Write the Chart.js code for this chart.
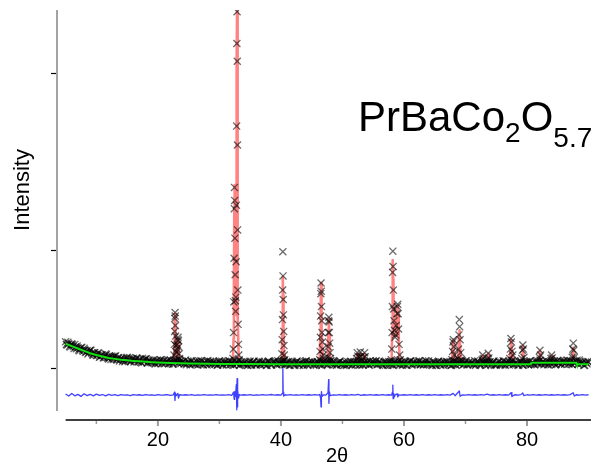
<!DOCTYPE html>
<html>
<head>
<meta charset="utf-8">
<script src="https://cdn.jsdelivr.net/npm/chart.js@4.4.0/dist/chart.umd.min.js"></script>
<style>
  body { margin: 0; background: #fff; }
  canvas { display: block; }
</style>
</head>
<body>
<canvas id="grafik" width="601" height="467"></canvas>
<script>
// Observed points on the flat part: start 5, step 0.25 (values in 10^3 counts)
const obsStart = 5;
const obsStep = 0.25;
const obsBaseY = [
  2.22, 1.95, 2.05, 1.77,  2.05, 1.81, 2.00, 1.63,  1.72, 1.45, 1.70, 1.49,  1.67, 1.31, 1.48, 1.28,
  1.51, 1.26, 1.08, 1.29,  1.05, 1.27, 0.91, 1.11,  1.11, 0.87, 1.19, 0.88,  0.75, 0.93, 1.01, 0.72,
  0.96, 0.72, 0.85, 0.60,  0.79, 0.55, 0.84, 0.66,  0.90, 0.68, 0.53, 0.77,  0.82, 0.62, 0.85, 0.52,
  0.71, 0.49, 0.82, 0.53,  0.76, 0.43, 0.65, 0.48,  0.45, 0.70, 0.36, 0.59,  0.37, 0.57, 0.67, 0.40,
  0.64, 0.42, 0.57, 0.34,  0.69, 0.48, 0.34, 0.59,  0.64, 0.45, 0.69, 0.37,  0.55, 0.34, 0.68, 0.40,
  0.48, 0.26, 0.56, 0.40,  0.33, 0.58, 0.25, 0.48,  0.61, 0.29, 0.51, 0.35,  0.26, 0.46, 0.56, 0.29,
  0.55, 0.33, 0.48, 0.25,  0.61, 0.40, 0.26, 0.51,  0.56, 0.37, 0.61, 0.29,  0.49, 0.28, 0.62, 0.34,
  0.43, 0.21, 0.51, 0.35,  0.30, 0.55, 0.22, 0.45,  0.58, 0.26, 0.48, 0.32,  0.24, 0.44, 0.54, 0.27,
  0.53, 0.31, 0.46, 0.23,  0.60, 0.39, 0.25, 0.50,  0.49, 0.28, 0.62, 0.34,  0.56, 0.37, 0.61, 0.29,
  0.30, 0.55, 0.22, 0.45,  0.43, 0.21, 0.51, 0.35,  0.24, 0.44, 0.54, 0.27,  0.58, 0.26, 0.48, 0.32,
  0.53, 0.31, 0.46, 0.23,  0.49, 0.28, 0.62, 0.34,  0.60, 0.39, 0.25, 0.50,  0.56, 0.37, 0.61, 0.29,
  0.24, 0.44, 0.54, 0.27,  0.43, 0.21, 0.51, 0.35,  0.30, 0.55, 0.22, 0.45,  0.53, 0.31, 0.46, 0.23,
  0.58, 0.26, 0.48, 0.32,  0.49, 0.28, 0.62, 0.34,  0.56, 0.37, 0.61, 0.29,  0.60, 0.39, 0.25, 0.50,
  0.24, 0.44, 0.54, 0.27,  0.43, 0.21, 0.51, 0.35,  0.53, 0.31, 0.46, 0.23,  0.30, 0.55, 0.22, 0.45,
  0.58, 0.26, 0.48, 0.32,  0.56, 0.37, 0.61, 0.29,  0.49, 0.28, 0.62, 0.34,  0.60, 0.39, 0.25, 0.50,
  0.43, 0.21, 0.51, 0.35,  0.24, 0.44, 0.54, 0.27,  0.53, 0.31, 0.46, 0.23,  0.30, 0.55, 0.22, 0.45,
  0.56, 0.37, 0.61, 0.29,  0.58, 0.26, 0.48, 0.32,  0.49, 0.28, 0.62, 0.34,  0.60, 0.39, 0.25, 0.50,
  0.43, 0.21, 0.51, 0.35,  0.53, 0.31, 0.46, 0.23,  0.24, 0.44, 0.54, 0.27,  0.30, 0.55, 0.22, 0.45,
  0.56, 0.37, 0.61, 0.29,  0.60, 0.39, 0.25, 0.50,  0.58, 0.26, 0.48, 0.32,  0.49, 0.28, 0.62, 0.34,
  0.48, 0.26, 0.56, 0.40,  0.58, 0.36, 0.51, 0.28,  0.35, 0.60, 0.27, 0.50,  0.29, 0.49, 0.59, 0.32,
  0.65, 0.44, 0.30, 0.55,  0.61, 0.42, 0.66, 0.34,  0.63, 0.31, 0.53, 0.37,  0.54, 0.33, 0.67, 0.39,
  0.43, 0.21, 0.51, 0.35,  0.50
];
// Second row of observed points, between the first ones (start 5.125)
const obsStart2 = 5.125;
const obsBaseY2 = [
  1.99, 2.18, 1.83, 1.98,  1.97, 1.64, 1.80, 1.86,  1.52, 1.67, 1.75, 1.41,  1.52, 1.36, 1.19, 1.46,
  1.50, 1.13, 1.31, 1.15,  1.06, 1.27, 0.94, 1.11,  0.86, 1.04, 1.14, 0.82,  1.01, 0.71, 0.90, 0.99,
  1.03, 0.68, 0.88, 0.74,  0.80, 0.68, 0.53, 0.84,  0.63, 0.86, 0.55, 0.74,  0.51, 0.70, 0.82, 0.52,
  0.72, 0.43, 0.63, 0.73,  0.79, 0.45, 0.66, 0.54,  0.60, 0.48, 0.35, 0.66,  0.45, 0.69, 0.39, 0.59,
  0.36, 0.56, 0.69, 0.40,  0.60, 0.32, 0.53, 0.64,  0.68, 0.35, 0.57, 0.45,  0.51, 0.40, 0.27, 0.59,
  0.37, 0.61, 0.31, 0.51,  0.29, 0.49, 0.62, 0.33,  0.54, 0.26, 0.47, 0.58,  0.63, 0.30, 0.52, 0.40,
  0.46, 0.35, 0.22, 0.54,
  0.33, 0.57, 0.27, 0.47,  0.26, 0.46, 0.59, 0.30,  0.51, 0.23, 0.44, 0.55,  0.61, 0.28, 0.50, 0.38,
  0.45, 0.34, 0.21, 0.53,  0.26, 0.46, 0.59, 0.30,  0.33, 0.57, 0.27, 0.47,  0.45, 0.34, 0.21, 0.53,
  0.51, 0.23, 0.44, 0.55,  0.61, 0.28, 0.50, 0.38,  0.33, 0.57, 0.27, 0.47,  0.51, 0.23, 0.44, 0.55,
  0.26, 0.46, 0.59, 0.30,  0.45, 0.34, 0.21, 0.53,  0.61, 0.28, 0.50, 0.38,  0.51, 0.23, 0.44, 0.55,
  0.45, 0.34, 0.21, 0.53,  0.33, 0.57, 0.27, 0.47,  0.61, 0.28, 0.50, 0.38,  0.26, 0.46, 0.59, 0.30,
  0.45, 0.34, 0.21, 0.53,  0.33, 0.57, 0.27, 0.47,  0.26, 0.46, 0.59, 0.30,  0.61, 0.28, 0.50, 0.38,
  0.51, 0.23, 0.44, 0.55,  0.33, 0.57, 0.27, 0.47,  0.45, 0.34, 0.21, 0.53,  0.51, 0.23, 0.44, 0.55,
  0.26, 0.46, 0.59, 0.30,  0.61, 0.28, 0.50, 0.38,  0.51, 0.23, 0.44, 0.55,  0.61, 0.28, 0.50, 0.38,
  0.33, 0.57, 0.27, 0.47,  0.26, 0.46, 0.59, 0.30,  0.45, 0.34, 0.21, 0.53,  0.26, 0.46, 0.59, 0.30,
  0.51, 0.23, 0.44, 0.55,  0.45, 0.34, 0.21, 0.53,  0.61, 0.28, 0.50, 0.38,  0.33, 0.57, 0.27, 0.47,
  0.61, 0.28, 0.50, 0.38,  0.45, 0.34, 0.21, 0.53,  0.51, 0.23, 0.44, 0.55,  0.33, 0.57, 0.27, 0.47,
  0.26, 0.46, 0.59, 0.30,  0.33, 0.57, 0.27, 0.47,  0.61, 0.28, 0.50, 0.38,  0.26, 0.46, 0.59, 0.30,
  0.45, 0.34, 0.21, 0.53,  0.51, 0.23, 0.44, 0.55,  0.33, 0.57, 0.27, 0.47,
  0.31, 0.51, 0.64, 0.35,  0.66, 0.33, 0.55, 0.43,  0.56, 0.28, 0.49, 0.60,  0.50, 0.39, 0.26, 0.58,
  0.38, 0.62, 0.32, 0.52,  0.31, 0.51, 0.64, 0.35,  0.56, 0.28, 0.49, 0.60,  0.66, 0.33, 0.55, 0.43,
  0.51, 0.23, 0.44, 0.55
];

// Observed points across the Bragg peaks
const peakObsX = [
  22.55, 22.62, 22.68, 22.72, 22.76, 22.79, 22.82, 22.85, 22.88, 22.92, 22.97, 23.03, 23.10, 23.17, 23.23, 23.28, 23.33, 23.38, 23.45, 23.53, 23.62,
  32.20, 32.26, 32.30, 32.34, 32.38, 32.42, 32.45, 32.48, 32.52, 32.56, 32.60, 32.64, 32.68, 32.72, 32.76, 32.80, 32.84, 32.87, 32.90, 32.93, 32.96, 33.00, 33.04, 33.09, 33.15, 33.22,
  40.10, 40.16, 40.20, 40.24, 40.28, 40.31, 40.34, 40.37, 40.40, 40.44, 40.49, 40.55, 40.62,
  46.30, 46.36, 46.41, 46.45, 46.49, 46.52, 46.55, 46.59, 46.63, 46.68, 46.74, 46.80, 46.88, 46.96,
  47.60, 47.66, 47.71, 47.75, 47.79, 47.83, 47.87, 47.92, 47.98, 48.05,
  52.30, 52.40, 52.50, 52.80, 52.90, 53.00, 53.50, 53.60, 53.70,
  57.95, 58.02, 58.07, 58.11, 58.15, 58.19, 58.23, 58.27, 58.32, 58.38, 58.45, 58.55, 58.65, 58.75, 58.85, 58.93, 58.99, 59.05, 59.12, 59.20, 59.30, 59.40,
  67.80, 67.90, 67.97, 68.03, 68.10, 68.20, 68.75, 68.85, 68.93, 68.99, 69.05, 69.12, 69.22, 69.35,
  72.70, 72.80, 72.90, 73.60, 73.70, 73.80,
  77.20, 77.30, 77.38, 77.46, 77.55, 77.70, 79.15, 79.25, 79.32, 79.40, 79.50,
  82.00, 82.10, 82.20, 83.90, 84.00, 84.10,
  87.35, 87.45, 87.52, 87.60, 87.70
];
const peakObsY = [
  0.60, 1.10, 2.00, 3.10, 4.20, 4.70, 4.40, 3.60, 2.70, 1.90, 1.40, 1.30, 1.60, 2.00, 2.40, 2.60, 2.30, 1.80, 1.20, 0.80, 0.55,
  0.80, 1.60, 3.00, 5.60, 9.30, 13.5, 15.3, 14.2, 11.0, 7.90, 5.70, 4.80, 6.00, 9.00, 13.8, 20.5, 27.5, 30.2, 26.0, 18.9, 11.7, 6.60, 3.70, 2.00, 1.10, 0.70,
  0.60, 1.20, 2.40, 4.10, 6.60, 9.85, 7.80, 5.80, 4.50, 3.10, 1.90, 1.10, 0.70,
  0.70, 1.40, 2.60, 4.40, 6.30, 7.20, 6.50, 5.20, 4.00, 3.00, 2.20, 1.60, 1.10, 0.80,
  0.90, 1.80, 3.00, 4.00, 4.30, 3.90, 3.00, 2.10, 1.30, 0.80,
  0.80, 1.30, 1.00, 0.90, 1.35, 1.00, 0.90, 1.30, 0.95,
  0.70, 1.60, 3.00, 5.20, 8.10, 9.90, 8.60, 6.60, 5.00, 4.00, 3.20, 2.60, 2.80, 3.60, 4.60, 5.20, 5.40, 4.60, 3.30, 2.00, 1.10, 0.70,
  0.70, 1.40, 2.20, 2.40, 1.80, 1.10, 0.80, 1.60, 2.80, 4.10, 3.50, 2.40, 1.30, 0.70,
  0.70, 1.10, 0.80, 0.80, 1.25, 0.85,
  0.80, 1.60, 2.50, 2.20, 1.40, 1.10, 0.80, 1.50, 1.95, 1.60, 0.90,
  0.90, 1.50, 1.10, 0.80, 1.10, 0.85,
  0.90, 1.60, 2.10, 1.50, 0.90
];

// Calculated profile
const calcX = [
  5, 6, 7, 8, 9, 10, 11, 11.4, 11.5, 11.6, 12, 13, 14, 15, 16, 17, 18, 19, 20, 21, 22, 22.6,
  22.68, 22.74, 22.79, 22.84, 22.90, 22.98, 23.08, 23.18, 23.26, 23.33, 23.42, 23.55, 23.70, 24, 25, 25.4, 25.5, 25.6, 26, 28, 30, 31.5,
  32.20, 32.30, 32.36, 32.42, 32.45, 32.49, 32.55, 32.62, 32.70, 32.77, 32.83, 32.87, 32.91, 32.96, 33.02, 33.10, 33.20, 33.40,
  34.5, 35.2, 35.3, 35.4, 38, 40.0, 40.15, 40.22, 40.28, 40.32, 40.36, 40.42, 40.50, 40.60, 40.80, 42.3, 42.4, 42.5,
  46.1, 46.30, 46.40, 46.47, 46.52, 46.57, 46.64, 46.72, 46.85, 47.0, 47.5, 47.62, 47.70, 47.76, 47.80, 47.86, 47.95, 48.1,
  52.2, 52.4, 52.55, 52.75, 52.9, 53.05, 53.45, 53.6, 53.75,
  57.9, 58.00, 58.08, 58.14, 58.19, 58.24, 58.30, 58.40, 58.55, 58.70, 58.85, 58.96, 59.05, 59.15, 59.28, 59.45,
  67.7, 67.85, 67.97, 68.03, 68.12, 68.25, 68.70, 68.85, 68.95, 69.00, 69.08, 69.20, 69.40,
  72.7, 72.8, 72.92, 73.6, 73.7, 73.82,
  77.2, 77.30, 77.38, 77.46, 77.56, 77.70, 77.85, 79.2, 79.32, 79.45, 80.5, 80.6,
  82.0, 82.1, 82.22, 83.9, 84.0, 84.12, 87.4, 87.52, 87.65, 88.0, 88.1, 90
];
const calcY = [
  2.05, 1.85, 1.65, 1.45, 1.25, 1.10, 0.97, 0.93, 1.08, 0.92, 0.85, 0.77, 0.70, 0.65, 0.60, 0.56, 0.52, 0.49, 0.47, 0.45, 0.43, 0.45,
  1.60, 3.60, 4.60, 3.50, 1.60, 1.00, 1.20, 1.80, 2.50, 2.20, 1.20, 0.60, 0.43, 0.41, 0.38, 0.38, 0.55, 0.38, 0.37, 0.35, 0.34, 0.34,
  0.60, 2.50, 7.00, 13.5, 15.5, 13.0, 8.00, 4.50, 6.50, 15.0, 26.0, 30.2, 24.5, 12.5, 4.50, 1.50, 0.60, 0.36,
  0.34, 0.34, 0.50, 0.34, 0.33, 0.33, 0.90, 3.00, 6.50, 7.70, 6.20, 3.20, 1.20, 0.50, 0.33, 0.32, 0.55, 0.32,
  0.32, 0.80, 2.60, 5.50, 7.20, 6.00, 3.60, 1.80, 0.80, 0.45, 0.40, 1.20, 3.00, 4.20, 4.10, 2.80, 1.10, 0.40,
  0.31, 1.20, 0.40, 0.40, 1.25, 0.40, 0.40, 1.20, 0.35,
  0.31, 0.90, 3.00, 6.50, 9.15, 7.50, 5.00, 3.40, 2.70, 3.00, 4.30, 5.30, 4.60, 2.60, 1.00, 0.40,
  0.31, 1.00, 2.20, 2.40, 1.60, 0.60, 0.50, 1.50, 2.80, 3.20, 2.60, 1.20, 0.40,
  0.32, 1.05, 0.40, 0.40, 1.20, 0.35,
  0.35, 1.40, 2.40, 2.10, 1.20, 0.90, 0.40, 0.40, 1.90, 0.50, 0.32, 0.45,
  0.50, 1.45, 0.55, 0.50, 1.05, 0.50, 0.50, 1.70, 0.50, 0.45, 0.31, 0.31
];

// Background
const bgX = [5, 6, 7, 8, 9, 10, 11, 12, 13, 14, 15, 16, 17, 18, 19, 20, 22, 25, 28, 30, 35, 40, 50, 80.6, 80.7, 88.0, 88.1, 90];
const bgY = [2.05, 1.85, 1.65, 1.45, 1.25, 1.10, 0.97, 0.85, 0.77, 0.70, 0.65, 0.60, 0.56, 0.52, 0.49, 0.47, 0.43, 0.38, 0.35, 0.34, 0.33, 0.32, 0.31, 0.31, 0.45, 0.45, 0.31, 0.31];

// Difference curve (offset below the pattern)
const diffX = [
  5, 5.5, 6, 6.5, 7, 7.5, 8, 8.5, 9, 9.5, 10, 10.5, 11, 11.5, 12, 12.5, 13, 13.5, 14, 14.5, 15, 15.5, 16, 16.5, 17, 17.5, 18, 18.5, 19, 19.5,
  20, 20.5, 21, 21.5, 22, 22.5, 22.7, 22.78, 22.85, 23.0, 23.25, 23.35, 23.5, 24, 24.5, 25, 25.5, 26, 26.5, 27, 27.5, 28, 28.5, 29, 29.5,
  30, 30.5, 31, 31.5, 32, 32.3, 32.4, 32.48, 32.6, 32.75, 32.82, 32.87, 32.92, 33.0, 33.1, 33.25, 33.5, 34, 34.5, 35, 35.5, 36, 36.5, 37, 37.5,
  38, 38.5, 39, 39.5, 40, 40.22, 40.31, 40.36, 40.45, 40.7, 41, 41.5, 42, 42.5, 43, 43.5, 44, 44.5, 45, 45.5, 46, 46.3, 46.45, 46.52, 46.58,
  46.7, 46.9, 47.3, 47.65, 47.75, 47.8, 47.87, 48.0, 48.5, 49, 49.5, 50, 50.5, 51, 51.5, 52, 52.5, 53, 53.5, 54, 54.5, 55, 55.5, 56, 56.5,
  57, 57.5, 58.0, 58.12, 58.19, 58.24, 58.32, 58.45, 58.6, 58.9, 59.0, 59.15, 59.5, 60, 60.5, 61, 61.5, 62, 62.5, 63, 63.5, 64, 64.5, 65,
  65.5, 66, 66.5, 67, 67.5, 68, 68.3, 69.0, 69.12, 69.5, 70, 70.5, 71, 71.5, 72, 72.5, 73, 73.5, 74, 74.5, 75, 75.5, 76, 76.5, 77, 77.4,
  77.55, 78, 78.5, 79, 79.3, 79.5, 80, 80.5, 81, 81.5, 82, 82.5, 83, 83.5, 84, 84.5, 85, 85.5, 86, 86.5, 87, 87.5, 87.7, 88, 88.5, 89, 89.5, 90
];
const diffY = [
  -2.20, -2.38, -2.16, -2.36, -2.24, -2.41, -2.19, -2.34, -2.23, -2.37, -2.22, -2.33, -2.25, -2.36, -2.24, -2.32, -2.26, -2.34, -2.25, -2.31,
  -2.28, -2.34, -2.26, -2.31, -2.27, -2.33, -2.25, -2.30, -2.28, -2.33,
  -2.26, -2.31, -2.29, -2.26, -2.32, -2.28, -2.05, -2.75, -2.15, -2.35, -2.15, -2.55, -2.27, -2.31, -2.27, -2.30, -2.25, -2.32, -2.28, -2.30,
  -2.26, -2.31, -2.28, -2.30, -2.26,
  -2.31, -2.28, -2.30, -2.26, -2.33, -2.05, -2.65, -2.00, -2.40, -1.40, -3.55, -0.90, -3.30, -1.90, -2.55, -2.25, -2.31, -2.27, -2.30, -2.26,
  -2.32, -2.28, -2.30, -2.26, -2.31,
  -2.28, -2.25, -2.31, -2.27, -2.30, -2.15, -0.05, -2.05, -2.38, -2.27, -2.30, -2.26, -2.31, -2.28, -2.30, -2.26, -2.31, -2.27, -2.30, -2.26,
  -2.31, -2.25, -2.55, -3.30, -2.00,
  -2.40, -2.28, -2.30, -2.10, -1.00, -3.00, -2.00, -2.35, -2.28, -2.30, -2.26, -2.31, -2.27, -2.30, -2.26, -2.31, -2.24, -2.33, -2.27, -2.30,
  -2.26, -2.31, -2.27, -2.30, -2.26,
  -2.31, -2.27, -2.30, -2.05, -1.45, -2.60, -2.15, -2.45, -2.25, -2.20, -2.45, -2.28, -2.30, -2.27, -2.31, -2.26, -2.30, -2.27, -2.31, -2.26,
  -2.30, -2.27, -2.31, -2.26,
  -2.30, -2.27, -2.31, -2.26, -2.30, -2.15, -2.35, -1.95, -2.40, -2.28, -2.31, -2.26, -2.30, -2.27, -2.31, -2.26, -2.30, -2.22, -2.31, -2.27,
  -2.30, -2.26, -2.31, -2.27, -2.30, -2.10,
  -2.42, -2.27, -2.31, -2.26, -2.12, -2.35, -2.27, -2.31, -2.26, -2.30, -2.27, -2.31, -2.26, -2.30, -2.27, -2.31, -2.26, -2.30, -2.27, -2.31,
  -2.26, -2.10, -2.38, -2.27, -2.31, -2.26, -2.30, -2.27
];

// Axis ticks
const yTicks = [0, 10, 25];
const xMajor = [20, 40, 60, 80];
const xMinor = [10, 30, 50, 70];

const fontUtama = "'Liberation Sans', Arial, sans-serif";

// Build point lists
const obsData = obsBaseY.map((v, i) => ({ x: obsStart + i * obsStep, y: v }))
  .concat(obsBaseY2.map((v, i) => ({ x: obsStart2 + i * obsStep, y: v })))
  .concat(peakObsX.map((x, i) => ({ x, y: peakObsY[i] })));
const calcData = calcX.map((x, i) => ({ x, y: calcY[i] }));
const bgData = bgX.map((x, i) => ({ x, y: bgY[i] }));
const diffData = diffX.map((x, i) => ({ x, y: diffY[i] }));

// Axis lines, ticks and texts
const sumbuPlugin = {
  id: 'sumbu',
  afterDraw(chart) {
    const { ctx, chartArea } = chart;
    const sx = chart.scales.x;
    const sy = chart.scales.y;
    ctx.save();

    // y axis
    ctx.strokeStyle = '#a3a3a3';
    ctx.lineWidth = 2;
    ctx.beginPath();
    ctx.moveTo(chartArea.left, chartArea.top);
    ctx.lineTo(chartArea.left, chartArea.bottom - 9);
    ctx.stroke();

    ctx.strokeStyle = '#000';
    ctx.lineWidth = 1.2;
    yTicks.forEach(v => {
      const py = Math.round(sy.getPixelForValue(v)) + 0.5;
      ctx.beginPath();
      ctx.moveTo(chartArea.left - 6, py);
      ctx.lineTo(chartArea.left - 1, py);
      ctx.stroke();
    });

    // x axis
    const yb = chartArea.bottom;
    ctx.strokeStyle = '#000';
    ctx.lineWidth = 1.5;
    ctx.beginPath();
    ctx.moveTo(sx.getPixelForValue(5), yb);
    ctx.lineTo(chartArea.right, yb);
    ctx.stroke();

    ctx.strokeStyle = '#9c9c9c';
    ctx.lineWidth = 2;
    xMajor.forEach(v => {
      const px = sx.getPixelForValue(v);
      ctx.beginPath();
      ctx.moveTo(px, yb + 1);
      ctx.lineTo(px, yb + 6);
      ctx.stroke();
    });
    ctx.lineWidth = 1.5;
    xMinor.forEach(v => {
      const px = sx.getPixelForValue(v);
      ctx.beginPath();
      ctx.moveTo(px, yb + 1);
      ctx.lineTo(px, yb + 4);
      ctx.stroke();
    });

    // titles
    ctx.fillStyle = '#000';
    ctx.textAlign = 'center';
    ctx.textBaseline = 'middle';
    ctx.font = '20px ' + fontUtama;
    ctx.fillText('2θ', 337, 456);

    ctx.save();
    ctx.translate(23, 190);
    ctx.rotate(-Math.PI / 2);
    ctx.font = '22px ' + fontUtama;
    ctx.fillText('Intensity', 0, 0);
    ctx.restore();

    // compound label
    ctx.textAlign = 'left';
    ctx.textBaseline = 'alphabetic';
    let cx = 358;
    const besar = '42px ' + fontUtama;
    const kecil = '28px ' + fontUtama;
    const bagian = [['PrBaCo', besar, 131], ['2', kecil, 142], ['O', besar, 131], ['5.7', kecil, 147]];
    bagian.forEach(([t, f, by]) => {
      ctx.font = f;
      ctx.fillText(t, cx, by);
      cx += ctx.measureText(t).width;
    });

    ctx.restore();
  }
};

const ctx = document.getElementById('grafik').getContext('2d');
new Chart(ctx, {
  type: 'scatter',
  data: {
    datasets: [
      {
        label: 'Bkg',
        data: bgData,
        showLine: true,
        pointRadius: 0,
        borderColor: '#10e010',
        borderWidth: 2,
        order: -1
      },
      {
        label: 'Obs',
        data: obsData,
        pointStyle: 'crossRot',
        pointRadius: 5,
        pointBorderWidth: 1.3,
        borderColor: 'rgba(0,0,0,0.58)',
        backgroundColor: 'rgba(0,0,0,0)',
        order: 0
      },
      {
        label: 'Calc',
        data: calcData,
        showLine: true,
        pointRadius: 0,
        borderColor: 'rgba(255,30,30,0.55)',
        borderWidth: 2.6,
        borderJoinStyle: 'round',
        order: 1
      },
      {
        label: 'Diff',
        data: diffData,
        showLine: true,
        pointRadius: 0,
        borderColor: 'rgba(0,0,255,0.75)',
        borderWidth: 1.3,
        borderJoinStyle: 'round',
        order: 3
      }
    ]
  },
  options: {
    responsive: false,
    animation: false,
    layout: { padding: { top: 10, right: 10, left: 0, bottom: 0 } },
    plugins: { legend: { display: false }, tooltip: { enabled: false } },
    scales: {
      x: {
        type: 'linear',
        min: 3.6,
        max: 90.4,
        grid: { display: false, drawTicks: false },
        border: { display: false },
        ticks: {
          stepSize: 10,
          includeBounds: false,
          autoSkip: false,
          maxRotation: 0,
          padding: 8,
          color: '#000',
          font: { size: 20, family: fontUtama },
          callback: v => (xMajor.includes(v) ? String(v) : '')
        },
        afterFit: s => { s.height = 47; }
      },
      y: {
        min: -4.41,
        max: 30.34,
        grid: { display: false, drawTicks: false },
        border: { display: false },
        ticks: { display: false },
        afterFit: s => { s.width = 57; }
      }
    }
  },
  plugins: [sumbuPlugin]
});
</script>
</body>
</html>
